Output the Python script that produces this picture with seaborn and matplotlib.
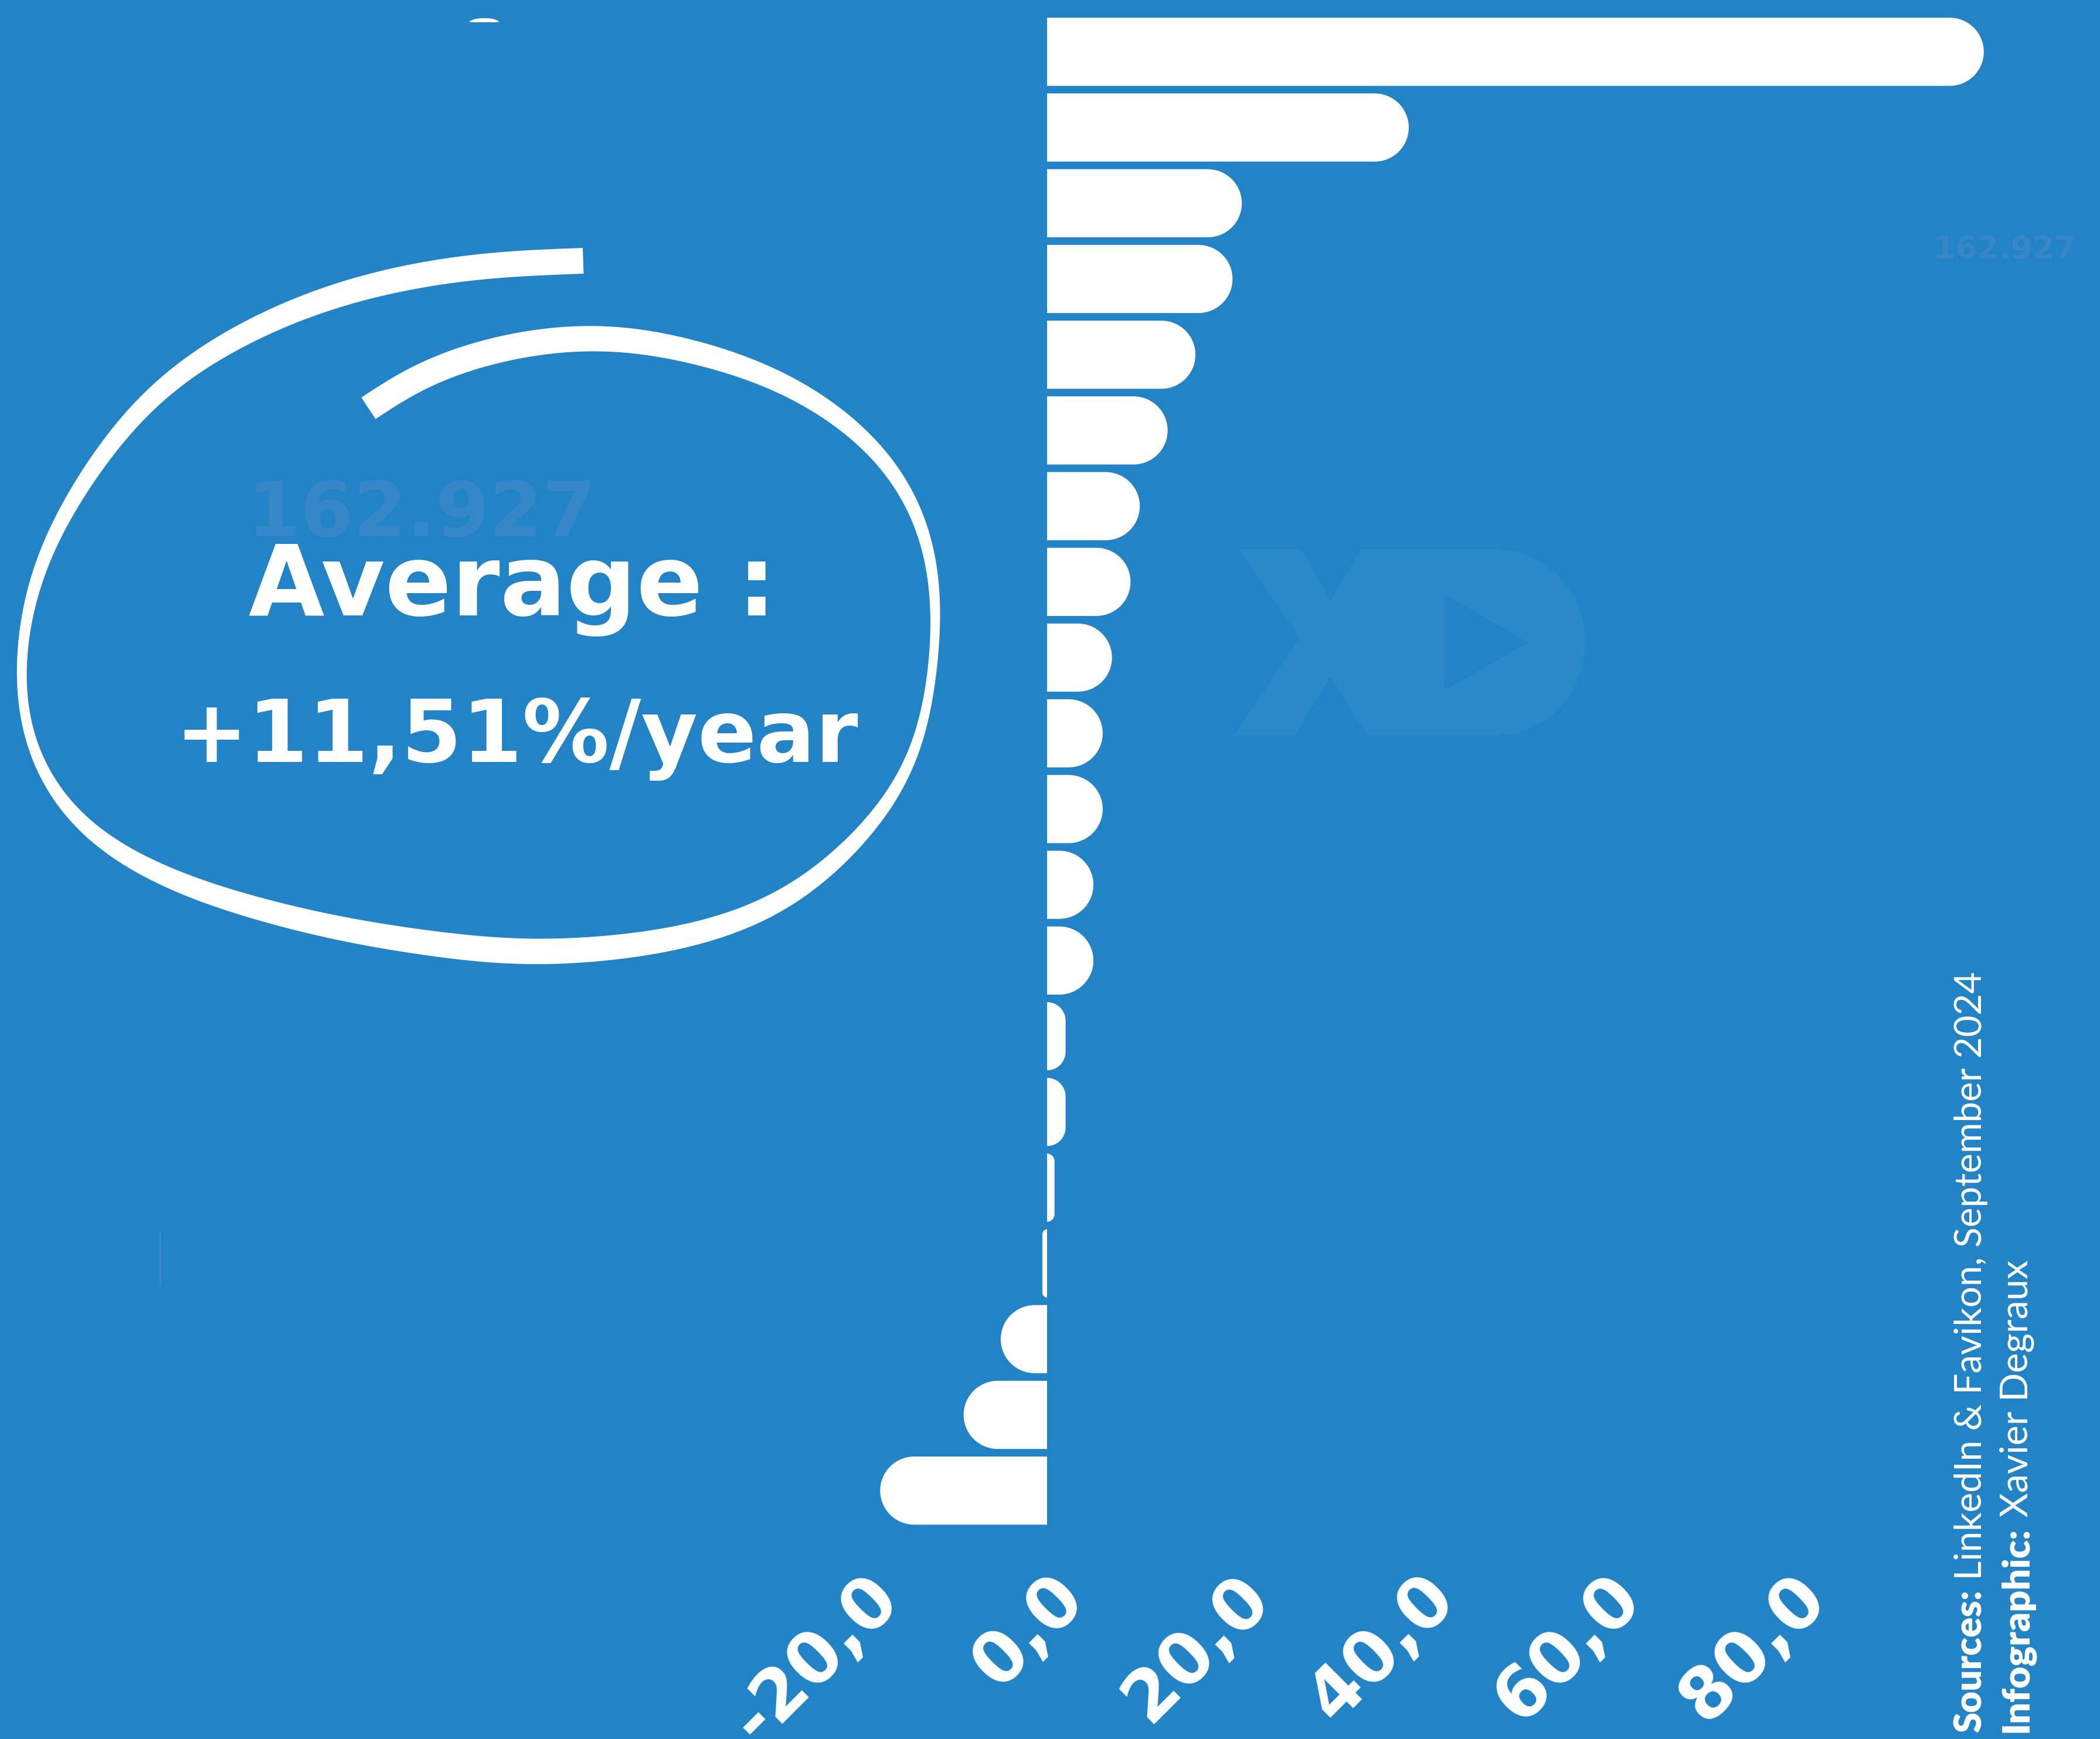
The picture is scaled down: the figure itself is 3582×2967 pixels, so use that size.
import numpy as np
import pandas as pd
import matplotlib
matplotlib.use("Agg")
import matplotlib.pyplot as plt
import seaborn as sns
from matplotlib.patches import Polygon
from matplotlib.lines import Line2D
from matplotlib.transforms import ScaledTranslation

# --- data ---
ranks = [f"#{i}" for i in range(1, 21)]
growth = [101, 39, 21, 20, 16, 13, 10, 9, 7, 6, 6, 5, 5, 2, 2, 0.8, -0.5, -5, -9, -18]
tick_values = [-20, 0, 20, 40, 60, 80]
tick_labels = ["-20,0", "0,0", "20,0", "40,0", "60,0", "80,0"]
average_lines = ["Average :", "+11,51%/year"]
watermark = "162.927"
source_bold = ["Sources:", "Infographic:"]
source_light = [" LinkedIn & Favikon, September 2024", " Xavier Degraux"]

BG = "#2284c6"
FAINT = "#3587c7"
LOGO = "#2a8ac8"
W, H, DPI = 3582, 2967, 300

sns.set_theme(style="white", rc={"axes.facecolor": BG, "figure.facecolor": BG})
plt.rcParams["font.family"] = ["DejaVu Sans"]

fig = plt.figure(figsize=(W / DPI, H / DPI), dpi=DPI)


def fx(x):
    return x / W


def fy(y):
    return 1 - y / H


# watermark logo, sits behind everything
logo = [(2113, 937), (2219, 937), (2270, 1025), (2321, 937), (2551, 937)]
a = np.linspace(np.pi / 2, -np.pi / 2, 40)
logo += [(2551 + 153 * np.cos(t), 1096 - 159 * np.sin(t)) for t in a]
logo += [(2332, 1255), (2269, 1155), (2209, 1255), (2105, 1255), (2217, 1088)]
fig.add_artist(Polygon([(fx(x), fy(y)) for x, y in logo], closed=True,
                       facecolor=LOGO, edgecolor="none", zorder=0))
tri = [(2463, 1014), (2607, 1096), (2463, 1178)]
fig.add_artist(Polygon([(fx(x), fy(y)) for x, y in tri], closed=True,
                       facecolor=BG, edgecolor="none", zorder=0))

ax = fig.add_axes([0, 0.12107, 1, 0.87092])
ax.patch.set_alpha(0)

df = pd.DataFrame({"rank": ranks, "growth": growth})
sns.barplot(data=df, x="growth", y="rank", orient="h", color="white",
            saturation=1, width=0.9, ax=ax)
ax.set_xlim(-1786 / 15.82, (W - 1786) / 15.82)
ax.set_ylim(len(ranks) - 0.5, -0.5)
ax.set_xlabel("")
ax.set_ylabel("")
ax.set_yticks([])
sns.despine(ax=ax, left=True, bottom=True)

ax.set_xticks(tick_values)
ax.set_xticklabels(tick_labels, rotation=45, ha="right", va="center",
                   rotation_mode="anchor", fontsize=29, fontweight="bold",
                   color="white")
ax.tick_params(axis="x", length=0, pad=24)
shift = ScaledTranslation(44 / DPI, 0, fig.dpi_scale_trans)
for lab in ax.get_xticklabels():
    lab.set_transform(lab.get_transform() + shift)

# pill shaped bars: swap each seaborn rectangle for a rounded one
fig.canvas.draw()
o = ax.transData.transform((0, 0))
px_x = ax.transData.transform((1, 0))[0] - o[0]
px_y = abs(ax.transData.transform((0, 1))[1] - o[1])
for bar in list(ax.patches):
    x0, y0, w, h = bar.get_x(), bar.get_y(), bar.get_width(), bar.get_height()
    if w < 0:
        x0, w = x0 + w, -w
        s = -1
        xs, xe = x0 + w, x0
    else:
        s = 1
        xs, xe = x0, x0 + w
    r = min(w * px_x, h * px_y / 2)
    rx, ry = r / px_x, r / px_y
    t = np.linspace(0, np.pi / 2, 20)
    pts = [(xs, y0)]
    cx, cy = xe - s * rx, y0 + ry
    pts += list(zip(cx + s * rx * np.sin(t), cy - ry * np.cos(t)))
    cx, cy = xe - s * rx, y0 + h - ry
    pts += list(zip(cx + s * rx * np.cos(t), cy + ry * np.sin(t)))
    pts += [(xs, y0 + h)]
    ax.add_patch(Polygon(pts, closed=True, facecolor="white", edgecolor="none"))
    bar.remove()


# hand drawn loop around the average
def catmull(points, n=16):
    P = np.asarray(points, float)
    P = np.vstack([2 * P[0] - P[1], P, 2 * P[-1] - P[-2]])
    out = []
    t = np.linspace(0, 1, n, endpoint=False)[:, None]
    for i in range(1, len(P) - 2):
        p0, p1, p2, p3 = P[i - 1], P[i], P[i + 1], P[i + 2]
        out.append(0.5 * (2 * p1 + (-p0 + p2) * t + (2 * p0 - 5 * p1 + 4 * p2 - p3) * t ** 2
                          + (-p0 + 3 * p1 - 3 * p2 + p3) * t ** 3))
    out.append(P[-2][None])
    return np.vstack(out)


def smooth(C, step=2.0, sigma=45):
    # resample by arc length then gaussian smoothing, ends kept by odd reflection
    seg = np.linalg.norm(np.diff(C[:, :2], axis=0), axis=1)
    s = np.concatenate([[0], np.cumsum(seg)])
    ss = np.arange(0, s[-1], step)
    R = np.column_stack([np.interp(ss, s, C[:, k]) for k in range(C.shape[1])])
    m = 3 * sigma
    pad = np.vstack([2 * R[0] - R[m:0:-1], R, 2 * R[-1] - R[-2:-m - 2:-1]])
    k = np.exp(-0.5 * (np.arange(-m, m + 1) / sigma) ** 2)
    k /= k.sum()
    return np.column_stack([np.convolve(pad[:, j], k, mode="valid") for j in range(R.shape[1])])


# outer edge of the stroke (pixels, y down) and stroke width
loop = [(994, 423, 44), (842, 428, 44), (737, 442, 43), (631, 463, 42),
        (526, 496, 40), (421, 542, 38), (316, 604, 35), (263, 645, 33),
        (210, 699, 31), (158, 770, 29), (105, 853, 26), (74, 911, 24),
        (47, 977, 22), (32, 1043, 19), (23, 1126, 16), (23, 1209, 15),
        (32, 1259, 16), (53, 1317, 19), (74, 1358, 21), (105, 1400, 24),
        (158, 1450, 28), (210, 1483, 32), (316, 1533, 36), (421, 1566, 38),
        (579, 1607, 41), (737, 1632, 43), (873, 1649, 44), (1000, 1644, 43),
        (1158, 1624, 40), (1315, 1574, 36), (1421, 1499, 30), (1526, 1383, 23),
        (1578, 1284, 17), (1600, 1143, 14), (1610, 1027, 17), (1600, 927, 20),
        (1578, 861, 22), (1536, 786, 25), (1473, 720, 29), (1368, 645, 34),
        (1263, 600, 38), (1158, 571, 41), (1052, 550, 43), (947, 554, 44),
        (842, 571, 44), (737, 604, 44), (631, 654, 44), (616, 679, 44)]
C = smooth(catmull(loop))
edge, wid = C[:, :2], C[:, 2]
d = np.gradient(edge, axis=0)
d /= np.linalg.norm(d, axis=1)[:, None]
inward = np.column_stack([d[:, 1], -d[:, 0]])
inner = edge + inward * wid[:, None]
ring = np.vstack([edge, inner[::-1]])
fig.add_artist(Polygon(np.column_stack([ring[:, 0] / W, 1 - ring[:, 1] / H]),
                       closed=True, facecolor="white", edgecolor="none", zorder=3))

r = fig.canvas.get_renderer()


def fit(txt, target):
    bb = txt.get_window_extent(r)
    txt.set_fontsize(txt.get_fontsize() * target / bb.width)


t = fig.text(fx(421), fy(915), watermark, ha="left", va="baseline",
             fontsize=40, fontweight="bold", color=FAINT, zorder=1)
fit(t, 594)
t = fig.text(fx(3298), fy(441), watermark, ha="left", va="baseline",
             fontsize=20, fontweight="bold", color=FAINT, zorder=1)
fit(t, 243)

t = fig.text(fx(874), fy(1050), average_lines[0], ha="center", va="baseline",
             fontsize=40, fontweight="bold", color="white", zorder=4)
fit(t, 900)
t = fig.text(fx(881), fy(1300), average_lines[1], ha="center", va="baseline",
             fontsize=40, fontweight="bold", color="white", zorder=4)
fit(t, 1165)

# small leftovers of the original layout
dome_t = np.linspace(0, np.pi, 30)
dome = [(fx(826 + 25 * np.cos(v)), fy(38 - 7 * np.sin(v))) for v in dome_t]
fig.add_artist(Polygon(dome, closed=True, facecolor="white", edgecolor="none"))
fig.add_artist(Line2D([fx(273), fx(273)], [fy(2102), fy(2195)], color="#3a8dcb", lw=0.6))

# vertical credits
for xb, y0, bold, light, length in [(3380, 2956, source_bold[0], source_light[0], 1299),
                                     (3458, 2956, source_bold[1], source_light[1], 807)]:
    t1 = fig.text(fx(xb), fy(y0), bold, rotation=90, rotation_mode="anchor",
                  ha="left", va="baseline", fontsize=13, fontweight="heavy",
                  color="white", family=["Lato", "DejaVu Sans"])
    t2 = fig.text(fx(xb), fy(y0), light, rotation=90, rotation_mode="anchor",
                  ha="left", va="baseline", fontsize=13, fontweight="normal",
                  color="white", family=["Lato", "DejaVu Sans"])
    total = t1.get_window_extent(r).height + t2.get_window_extent(r).height
    k = length / total
    for tt in (t1, t2):
        tt.set_fontsize(tt.get_fontsize() * k)
    h1 = t1.get_window_extent(r).height
    t2.set_position((fx(xb), fy(y0 - h1)))

fig.savefig("out.png", dpi=DPI, facecolor=BG)
